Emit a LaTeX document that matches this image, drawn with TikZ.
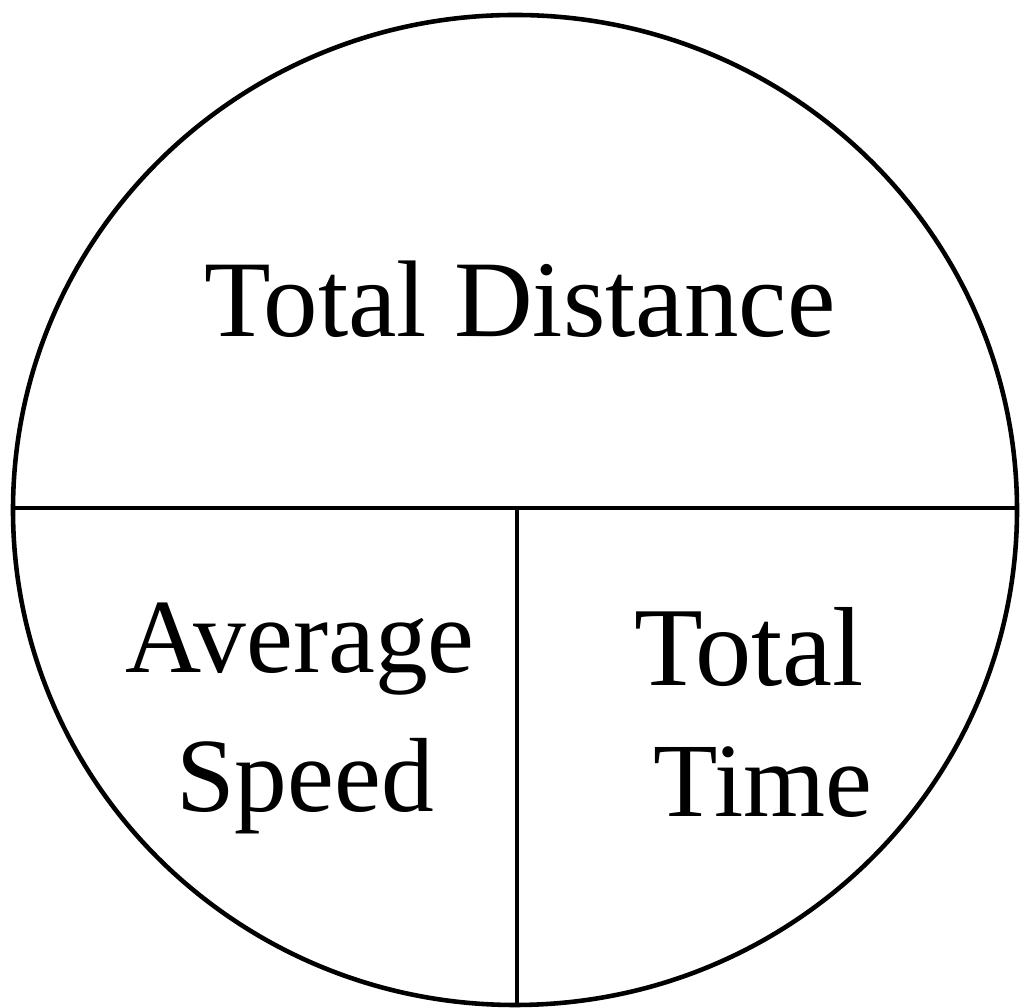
\documentclass[tikz,border=0pt]{standalone}
\usepackage{fontspec}
\setmainfont{Liberation Serif}
\usetikzlibrary{positioning}

\tikzset{word/.style={anchor=base, inner sep=0pt, font=\fontsize{30}{39}\selectfont}}

\begin{document}
\begin{tikzpicture}
\useasboundingbox (0,0) rectangle (10.22,10.08);
% circle and the two dividing lines
\coordinate (ctr) at (5.15,4.98);
\draw[line width=1.3pt] (ctr) ellipse (5.02 and 4.95);
\coordinate (left) at (0.13,5.00);
\coordinate (right) at (10.17,5.00);
\coordinate (mid) at (5.17,5.00);
\coordinate (bottom) at (5.17,0.03);
\draw[line width=1.3pt] (left) -- (right);
\draw[line width=1.3pt] (mid) -- (bottom);
% labels
\node[word, font=\fontsize{31}{39}\selectfont] (dist) at (5.20,6.71) {Total Distance};
\node[word] (avg) at (3.00,3.35) {Average};
\node[word] (speed) at (3.05,1.96) {Speed};
\node[word, font=\fontsize{32}{39}\selectfont] (total) at (7.49,3.22) {Total};
\node[word] (time) at (7.63,1.91) {Time};
\end{tikzpicture}
\end{document}
